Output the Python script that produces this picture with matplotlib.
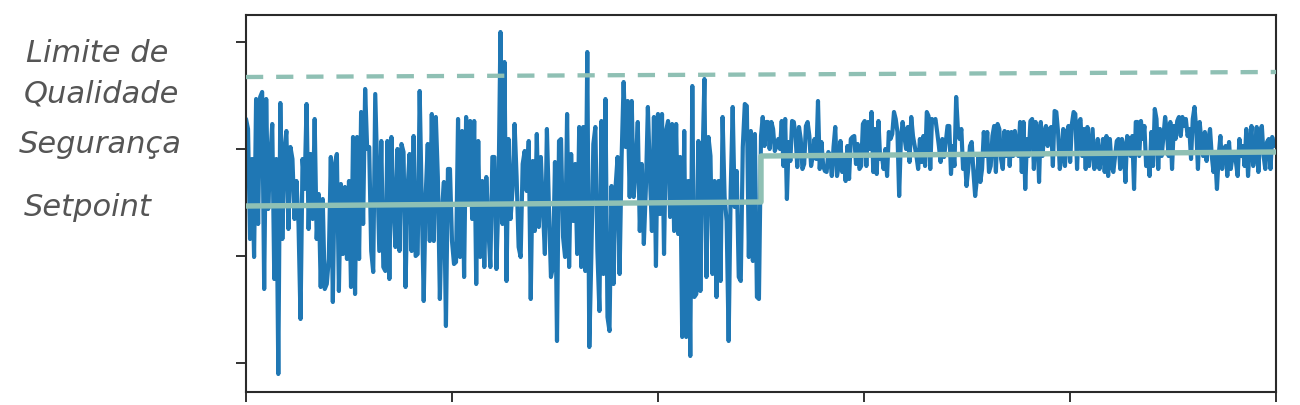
import numpy as np
import matplotlib
matplotlib.use("Agg")
import matplotlib.pyplot as plt

# ---------------- data (arbitrary process units) ----------------
# process value before the setpoint change (t = 0 .. 249)
before = [
    280, 270, 160, 240, 142, 300, 175, 302, 307, 110, 300, 190, 240, 275, 120, 240, 25, 296, 160, 250,
    268, 170, 252, 240, 180, 218, 175, 80, 240, 210, 295, 170, 245, 180, 280, 160, 205, 112, 200, 110,
    115, 140, 242, 97, 235, 245, 108, 215, 145, 212, 140, 218, 112, 262, 105, 262, 140,
    287, 175, 310, 250, 252, 148, 127, 305, 228, 148, 258, 132, 128, 258, 120, 262, 198, 152, 250, 148,
    255, 247, 112, 210, 245, 148, 263, 143, 145, 308, 200, 98, 205, 255, 158, 285, 158, 282, 222, 100,
    188, 217, 73, 230, 230, 158, 135, 137, 280, 142, 268, 122, 282, 198, 278, 180, 278, 115, 258, 142,
    218, 132, 222, 172, 132, 242,
    242, 130, 200, 367, 175, 337, 118, 260, 180, 210, 275, 222, 152, 142, 235, 248, 208, 258, 100, 238,
    168, 265, 172, 242, 192, 145, 270, 192, 122, 132, 237, 58, 258, 260, 162, 142, 285, 132, 245, 178,
    235, 145, 272, 132, 272, 128, 347, 52, 142, 255, 272, 148, 88, 278, 125, 300, 82, 68, 213, 115,
    212, 242, 125, 242, 317, 252, 298, 202,
    298, 202, 232, 277, 168, 235, 155, 210, 292, 225, 168, 282, 133, 285, 185, 285, 145, 268, 278, 182,
    275, 168, 275, 165, 242, 62, 268, 62, 218, 43, 313, 102, 105, 258, 108, 232, 320, 122, 262, 243,
    125, 218, 102, 218, 118, 282, 202, 178, 58, 208, 292, 192, 228, 122, 118, 252, 295, 293, 142, 268,
    138, 265, 102, 100,
]

# process value after the setpoint change (t = 250 .. 499)
after = [
    263, 282, 253, 277, 277, 250, 277, 270, 248, 253, 260, 250, 278, 233, 280, 200, 257, 238, 278, 277,
    263, 232, 272, 260, 230, 235, 273, 277, 263, 233, 243, 260, 240, 298, 230, 257, 233, 228, 227, 247,
    243, 223, 252, 272, 223, 233, 258, 227, 243, 218, 253, 220, 260, 262, 263, 235, 255, 230, 233, 275,
    278, 233, 277, 250, 287, 227, 270, 225, 278, 240, 243, 230, 250, 223, 267, 260, 265, 287, 280, 267,
    203, 260, 277, 263, 250, 272, 237, 282, 263, 253, 243, 230, 260, 237, 263,
    233, 287, 283, 230, 280, 277, 280, 267, 253, 237, 260, 242, 257, 273, 273, 225, 253, 233, 302, 270,
    260, 270, 230, 243, 213, 230, 253, 257, 227, 203, 220, 243, 217, 230, 267, 243, 267, 227, 233, 263,
    273, 227, 275, 270, 240, 230, 268, 243, 267, 233, 267, 243, 268, 250, 243, 277, 227, 277, 210, 260,
    243, 278, 280, 230, 277, 270, 217, 277, 243, 267, 273, 253, 270, 272, 233, 288, 287, 267, 230, 243,
    270, 233, 265, 273, 237, 275, 287, 285, 230, 277, 280, 243, 270, 230, 272, 233, 252, 270, 230, 240,
    260, 230, 243,
    260, 227, 263, 223, 260, 233, 227, 243, 258, 260, 230, 260, 253, 217, 263, 260, 243, 263, 210, 277,
    277, 243, 278, 260, 273, 233, 243, 223, 267, 233, 290, 280, 230, 270, 243, 263, 282, 267, 243, 277,
    230, 273, 260, 278, 282, 263, 282, 273, 280, 263, 270, 240, 280, 292, 270, 230, 277, 257, 243, 267,
    238, 260, 270, 243, 227, 243, 210, 243, 263, 230, 250, 253, 223, 257, 230, 243, 247, 237, 223, 260,
    243, 253, 233, 270, 223, 253, 273, 233, 243, 272, 227, 267, 273, 243, 230, 257, 260, 230, 262, 253,
]

t_change = 250
t_end = 499

setpoint_t = [0, t_change, t_change, 500]
setpoint_v = [193, 197, 243, 247]

quality_t = [0, 500]
quality_v = [322, 327]

labels = ["Limite de", "Qualidade", "Segurança", "Setpoint"]

# ---------------- figure ----------------
W, H = 1300, 406
fig = plt.figure(figsize=(W / 100, H / 100), dpi=100)
ax = fig.add_axes([246 / W, 1 - 393 / H, (1276 - 246) / W, (393 - 16) / H])

blue = "#1f77b4"
green = "#8fc0b4"

t1 = np.linspace(0, t_change - 1, len(before))
t2 = np.linspace(t_change, t_end, len(after))
t_all = np.concatenate([t1, t2])
v_all = np.concatenate([before, after])

ax.plot(t_all, v_all, color=blue, lw=3.0, solid_joinstyle="round",
        solid_capstyle="round", zorder=2)
ax.plot(setpoint_t, setpoint_v, color=green, lw=3.9, zorder=3)
ax.plot(quality_t, quality_v, color=green, lw=3.1, linestyle=(0, (4, 3)), zorder=3)

ax.set_xlim(0, 500)
ax.set_ylim(7, 384)
ax.set_xticks([0, 100, 200, 300, 400, 500])
ax.set_yticks([36, 143, 250, 357])
ax.set_xticklabels([])
ax.set_yticklabels([])
ax.tick_params(axis="both", direction="out", length=7.5, width=1.3, color="#222222")
for s in ax.spines.values():
    s.set_color("#2a2a2a")
    s.set_linewidth(1.5)

txt_kw = dict(fontsize=22, style="italic", color="#555555", va="baseline", ha="left",
              family="DejaVu Sans")
fig.text(26 / W, 1 - 62 / H, labels[0], **txt_kw)
fig.text(24 / W, 1 - 102 / H, labels[1], **txt_kw)
fig.text(19 / W, 1 - 153 / H, labels[2], **txt_kw)
fig.text(24 / W, 1 - 216 / H, labels[3], **txt_kw)

fig.savefig("out.png", dpi=100)
